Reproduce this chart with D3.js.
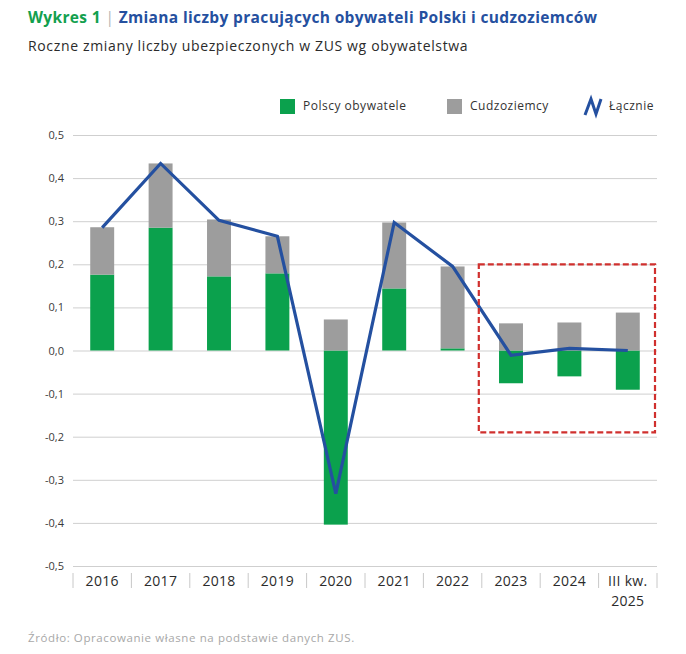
<!DOCTYPE html>
<html>
<head>
<meta charset="utf-8">
<script src="https://cdn.jsdelivr.net/npm/d3@7"></script>
<style>
  body { margin: 0; background: #fff; }
  svg { font-family: "Open Sans", sans-serif; }
</style>
</head>
<body>
<svg id="chart" width="686" height="654"></svg>
<script>
// data (mln people, yearly change)
const years = ["2016", "2017", "2018", "2019", "2020", "2021", "2022", "2023", "2024", "III kw.|2025"];
const polish = [0.176, 0.285, 0.172, 0.179, -0.404, 0.144, 0.005, -0.076, -0.060, -0.091];
const foreign = [0.110, 0.149, 0.132, 0.086, 0.072, 0.153, 0.190, 0.063, 0.065, 0.088];
const total = [0.285, 0.434, 0.302, 0.265, -0.332, 0.297, 0.195, -0.011, 0.005, 0.000];
const yTicks = [0.5, 0.4, 0.3, 0.2, 0.1, 0.0, -0.1, -0.2, -0.3, -0.4, -0.5];
const highlighted = ["2023", "2024", "III kw.|2025"];

const green = "#0ba14d", grey = "#9d9d9d", blue = "#2450a0";

const svg = d3.select("#chart");
const margin = { left: 73, right: 29, top: 135, bottom: 88 };
const W = 686, H = 654;

const x = d3.scaleBand()
    .domain(years)
    .range([margin.left, W - margin.right])
    .paddingInner(0.59)
    .paddingOuter(0.295);
const step = x.step();

const y = d3.scaleLinear()
    .domain([-0.5, 0.5])
    .range([H - margin.bottom, margin.top]);

const fmt = v => d3.format(".1f")(v).replace(".", ",").replace("−", "-");

// title
const title = svg.append("text").attr("x", 28).attr("y", 23)
    .style("font-size", "15.5px").style("font-weight", 700).style("letter-spacing", "0.35px");
title.append("tspan").attr("fill", "#12a04e").text("Wykres 1");
title.append("tspan").attr("fill", "#b5b5b5").style("font-weight", 400).text("  |  ");
title.append("tspan").attr("fill", "#25509f").text("Zmiana liczby pracujących obywateli Polski i cudzoziemców");

svg.append("text").attr("x", 28).attr("y", 51)
    .style("font-size", "14px").style("letter-spacing", "0.65px").attr("fill", "#2b2b2b")
    .text("Roczne zmiany liczby ubezpieczonych w ZUS wg obywatelstwa");

// gridlines + y labels
const yAxis = svg.append("g").attr("transform", `translate(${margin.left},0)`)
    .call(d3.axisLeft(y).tickValues(yTicks).tickSize(-(W - margin.left - margin.right)).tickFormat(fmt).tickPadding(9));
yAxis.select(".domain").remove();
yAxis.selectAll(".tick line").attr("stroke", "#cfcfcf").attr("stroke-width", 1);
yAxis.selectAll(".tick text").attr("fill", "#3a3a3a").style("font-size", "11px")
    .style("font-family", "'Open Sans', sans-serif");

// bars
const rows = years.map((yr, i) => ({ yr, p: polish[i], f: foreign[i], t: total[i] }));

const barG = svg.append("g");
barG.selectAll(".pl").data(rows).join("rect")
    .attr("class", "pl")
    .attr("x", d => x(d.yr)).attr("width", x.bandwidth())
    .attr("y", d => y(Math.max(0, d.p)))
    .attr("height", d => Math.abs(y(d.p) - y(0)))
    .attr("fill", green);

barG.selectAll(".fo").data(rows).join("rect")
    .attr("class", "fo")
    .attr("x", d => x(d.yr)).attr("width", x.bandwidth())
    .attr("y", d => y(Math.max(0, d.p) + d.f))
    .attr("height", d => y(Math.max(0, d.p)) - y(Math.max(0, d.p) + d.f))
    .attr("fill", grey);

// total line
const line = d3.line()
    .x(d => x(d.yr) + x.bandwidth() / 2)
    .y(d => y(d.t));
svg.append("path").datum(rows)
    .attr("d", line)
    .attr("fill", "none").attr("stroke", blue).attr("stroke-width", 3.2)
    .attr("stroke-linejoin", "miter");

// highlight box around last three periods
const hx0 = x(highlighted[0]) - x.step() * x.paddingInner() / 2 - 3;
const hx1 = W - margin.right - 2;
svg.append("rect")
    .attr("x", hx0).attr("y", y(0.2))
    .attr("width", hx1 - hx0).attr("height", y(-0.19) - y(0.2))
    .attr("fill", "none").attr("stroke", "#d0302e").attr("stroke-width", 2.2)
    .attr("stroke-dasharray", "6,3");

// x labels and separators
const xl = svg.append("g");
years.forEach((yr, i) => {
    const cx = x(yr) + x.bandwidth() / 2;
    const parts = yr.split("|");
    parts.forEach((t, j) => {
        xl.append("text").attr("x", cx).attr("y", 586 + j * 20)
            .attr("text-anchor", "middle").attr("fill", "#2b2b2b")
            .style("font-size", "14px").style("letter-spacing", "0.3px").text(t);
    });
});
d3.range(years.length + 1).forEach(i => {
    const sx = margin.left + i * step;
    xl.append("line").attr("x1", sx).attr("x2", sx).attr("y1", 573).attr("y2", 588)
        .attr("stroke", "#c8c8c8").attr("stroke-width", 1);
});

// legend
const lg = svg.append("g").style("font-size", "12px").style("letter-spacing", "0.5px").attr("fill", "#333");
lg.append("rect").attr("x", 280).attr("y", 99).attr("width", 15).attr("height", 15).attr("fill", green);
lg.append("text").attr("x", 303).attr("y", 110).text("Polscy obywatele");
lg.append("rect").attr("x", 447).attr("y", 99).attr("width", 15).attr("height", 15).attr("fill", grey);
lg.append("text").attr("x", 470).attr("y", 110).text("Cudzoziemcy");
lg.append("path").attr("d", "M585,115 L591,99 L596,114 L601,99")
    .attr("fill", "none").attr("stroke", blue).attr("stroke-width", 3).attr("stroke-linejoin", "miter");
lg.append("text").attr("x", 609).attr("y", 110).text("Łącznie");

// source
svg.append("text").attr("x", 28).attr("y", 642)
    .style("font-size", "11.5px").style("letter-spacing", "0.6px").attr("fill", "#a8a8a8")
    .text("Źródło: Opracowanie własne na podstawie danych ZUS.");
</script>
</body>
</html>
